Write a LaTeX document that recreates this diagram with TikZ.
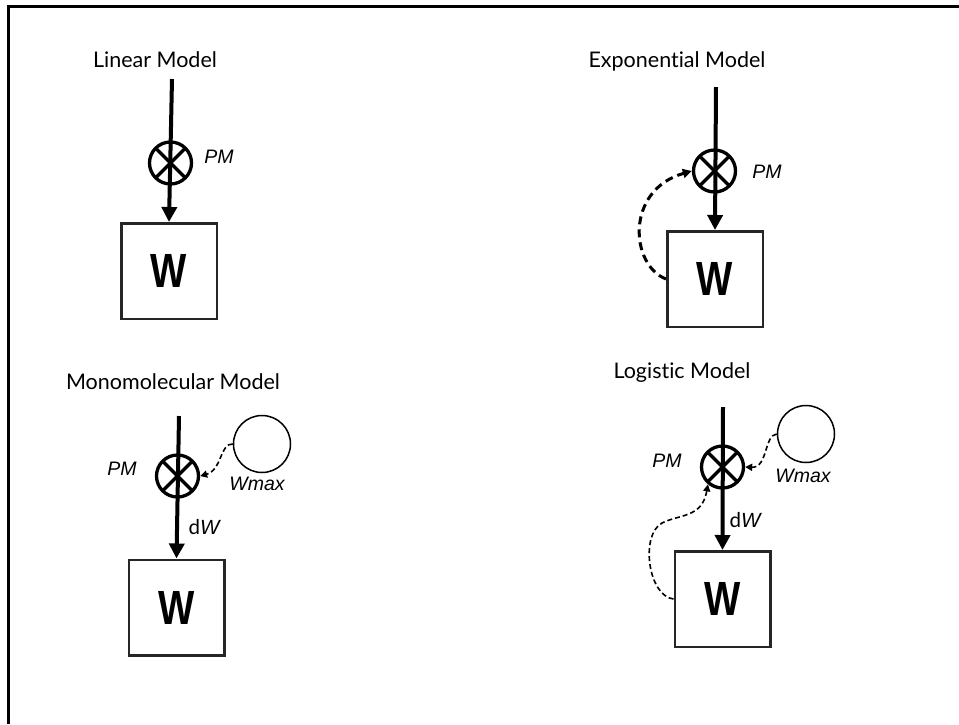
\documentclass[tikz,border=0pt]{standalone}
\usepackage{fontspec}
\usepackage{graphicx}
\setmainfont{Lato}[Ligatures={NoCommon,NoRare,NoContextual}]
\newfontfamily\labfont{Liberation Sans}
\usetikzlibrary{arrows.meta}
\begin{document}
\begin{tikzpicture}[x=1pt,y=-1pt,
  title/.style={font=\fontsize{21.5}{24}\selectfont, anchor=base, inner sep=0pt},
  lab/.style={font=\labfont\itshape\fontsize{19.5}{22}\selectfont, inner sep=0pt},
  dwlab/.style={font=\fontsize{20.5}{22}\selectfont, inner sep=0pt},
  wbox/.style={draw=black!85, line width=2.5pt, minimum size=95.5pt, inner sep=0pt,
    font=\labfont\bfseries\fontsize{48}{48}\selectfont},
  otimes/.style={circle, draw, line width=3.3pt, minimum size=42pt, inner sep=0pt,
    path picture={\draw[line width=3.3pt] (path picture bounding box.north west) -- (path picture bounding box.south east)
      (path picture bounding box.north east) -- (path picture bounding box.south west);}},
  wmaxc/.style={circle, draw, line width=1.5pt, minimum size=57pt, inner sep=0pt},
  mainarrow/.style={line width=4pt, -{Triangle[length=15pt,width=15pt]}},
  thickdash/.style={line width=3pt, dash pattern=on 8pt off 5pt, -{Triangle[length=9pt,width=9pt]}},
  thindash/.style={line width=1.6pt, dash pattern=on 5pt off 3pt, -{Triangle[length=7pt,width=7pt]}}
]
\useasboundingbox (0,0) rectangle (959,724);
% frame
\draw[line width=2.7pt] (959,6.7) -- (8.3,6.7) -- (8.3,724);

% Linear model
\node[title] (lt) at (155,67) {Linear Model};
\coordinate (ltop) at (172,79);
\node[otimes] (lc) at (170.5,163) {};
\node[lab] (lpm) at (219,157) {PM};
\node[wbox] (lb) at (169,271) {\scalebox{0.8}[1]{W}};
\draw[mainarrow] (ltop) -- (lb.north);

% Exponential model
\node[title] (et) at (677,67) {Exponential Model};
\coordinate (etop) at (716,87);
\node[otimes] (ec) at (714.5,171) {};
\node[lab] (epm) at (767,172) {PM};
\node[wbox] (eb) at (715,279) {\scalebox{0.8}[1]{W}};
\draw[mainarrow] (etop) -- (eb.north);
\draw[thickdash] (eb.west) .. controls (630,265) and (625,190) .. (ec.west);

% Monomolecular model
\node[title] (mt) at (173,389) {Monomolecular Model};
\coordinate (mtop) at (179,416);
\node[otimes] (mc) at (177.5,476) {};
\node[lab] (mpm) at (122,469) {PM};
\node[wmaxc] (mw) at (262,444) {};
\node[lab] (mwl) at (257,484) {Wmax};
\node[wbox] (mb) at (176.5,607.5) {\scalebox{0.8}[1]{W}};
\draw[mainarrow] (mtop) -- (mb.north);
\node[dwlab] (mdw) at (204,527) {d{\labfont\itshape W}};
\draw[thindash] (mw.west) .. controls (220,443) and (222,470) .. (mc.east);

% Logistic model
\node[title] (gt) at (682,378) {Logistic Model};
\coordinate (gtop) at (723,407);
\node[otimes] (gc) at (722.5,467) {};
\node[lab] (gpm) at (667,461) {PM};
\node[wmaxc] (gw) at (806,434) {};
\node[lab] (gwl) at (803,476) {Wmax};
\node[wbox] (gb) at (722.5,599) {\scalebox{0.8}[1]{W}};
\draw[mainarrow] (gtop) -- (gb.north);
\node[dwlab] (gdw) at (745,520) {d{\labfont\itshape W}};
\draw[thindash] (gw.west) .. controls (764,435) and (768,468) .. (gc.east);
\draw[thindash] (gb.west) .. controls (648,596) and (640,535) .. (662,523)
  .. controls (680,514) and (702,518) .. (gc.230);
\end{tikzpicture}
\end{document}
